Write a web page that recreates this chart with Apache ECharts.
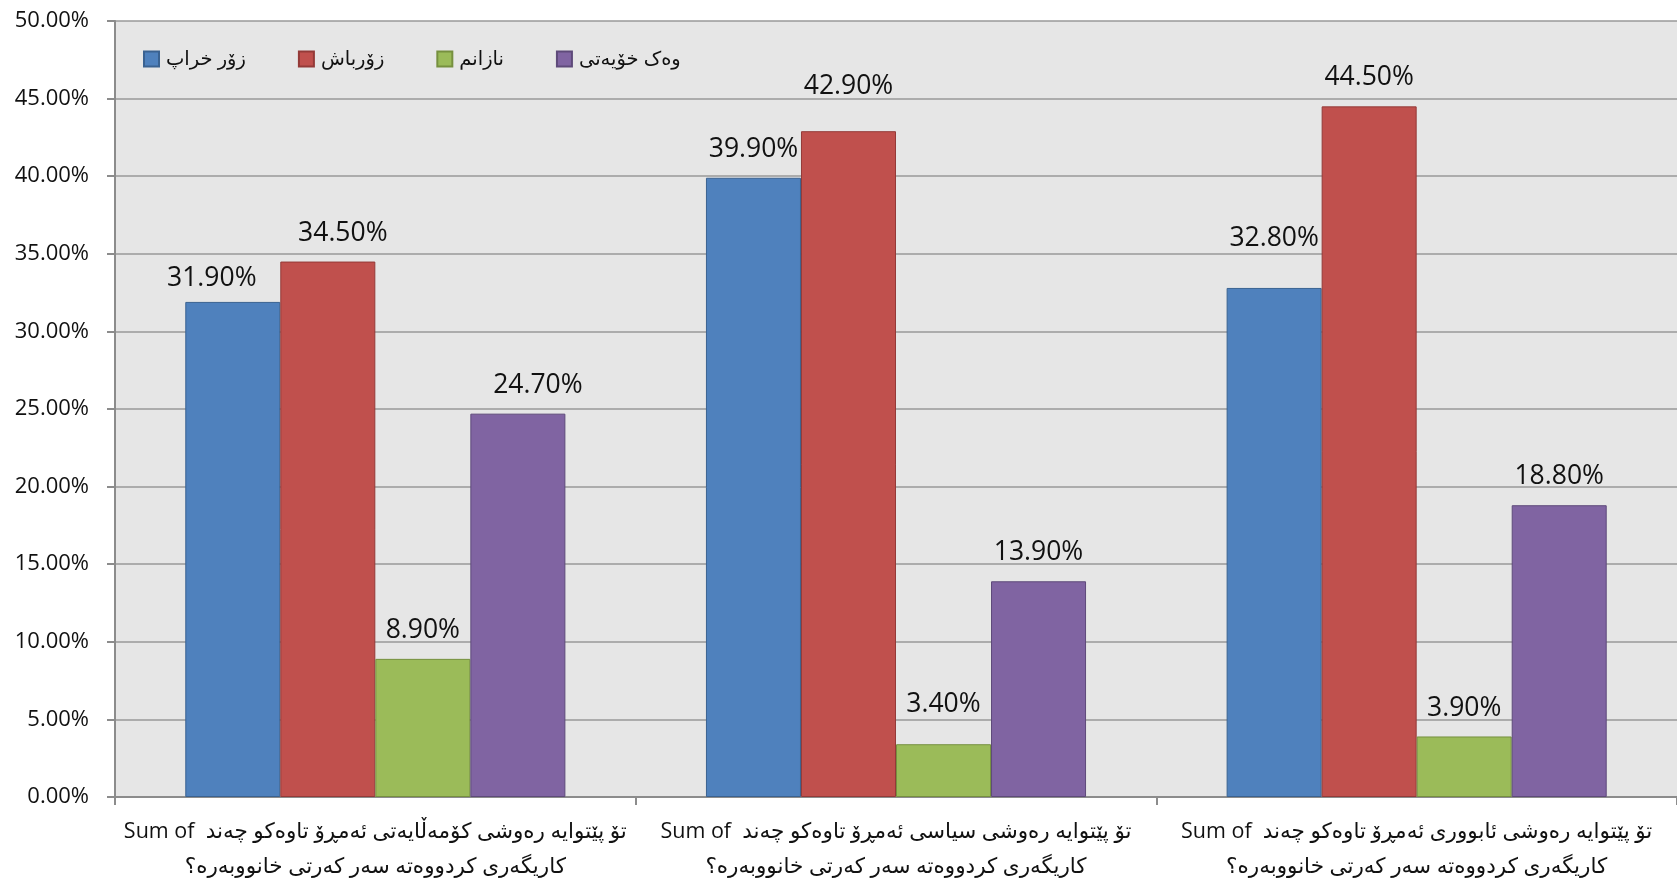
<!DOCTYPE html>
<html>
<head>
<meta charset="utf-8">
<script src="https://cdn.jsdelivr.net/npm/echarts@6/dist/echarts.min.js"></script>
<style>
html,body{margin:0;padding:0;background:#fff;}
#c{width:1677px;height:884px;}
</style>
</head>
<body>
<div id="c"></div>
<script>
const categories = [
  'Sum of  تۆ پێتوایە رەوشی کۆمەڵایەتی ئەمڕۆ تاوەکو چەند\nکاریگەری کردووەتە سەر کەرتی خانووبەرە؟',
  'Sum of  تۆ پێتوایە رەوشی سیاسی ئەمڕۆ تاوەکو چەند\nکاریگەری کردووەتە سەر کەرتی خانووبەرە؟',
  'Sum of  تۆ پێتوایە رەوشی ئابووری ئەمڕۆ تاوەکو چەند\nکاریگەری کردووەتە سەر کەرتی خانووبەرە؟'
];
const seriesNames = ['زۆر خراپ', 'زۆرباش', 'نازانم', 'وەک خۆیەتی'];
const veryBad = [31.9, 39.9, 32.8];
const veryGood = [34.5, 42.9, 44.5];
const dontKnow = [8.9, 3.4, 3.9];
const asItIs = [24.7, 13.9, 18.8];
const yTicks = { min: 0, max: 50, interval: 5 };

const seriesValues = [veryBad, veryGood, dontKnow, asItIs];
const fills = ['#4F81BD', '#C0504D', '#9BBB59', '#8064A2'];
const borders = ['#3A6291', '#943A38', '#76903F', '#5E4A7A'];
// label nudges (Excel moved a few labels to avoid overlaps)
const labelNudge = { '0-0': [-21, 5], '1-0': [15, 0], '3-0': [20, 0], '1-1': [0, -16], '2-1': [0, -11], '0-2': [0, -21] };

const FONT = "'Open Sans', 'DejaVu Sans', sans-serif";
const chart = echarts.init(document.getElementById('c'), null, { renderer: 'canvas' });

const series = seriesValues.map((vals, s) => ({
  name: seriesNames[s],
  type: 'bar',
  barGap: '0%',
  barCategoryGap: '27%',
  itemStyle: { color: fills[s], borderColor: borders[s], borderWidth: 1 },
  label: {
    show: true, position: 'top', distance: 15,
    fontFamily: FONT, fontSize: 26.5, color: '#111',
    formatter: p => p.value.toFixed(2) + '%'
  },
  data: vals.map((v, i) => {
    const o = labelNudge[s + '-' + i];
    return o ? { value: v, label: { offset: o } } : v;
  })
}));

chart.setOption({
  animation: false,
  textStyle: { fontFamily: FONT },
  legend: {
    left: 143, top: 49, padding: 0,
    itemWidth: 15, itemHeight: 15, itemGap: 52,
    icon: 'rect',
    textStyle: { fontFamily: FONT, fontSize: 19.5, color: '#111', padding: [0, 0, 0, 2] },
    data: seriesNames
  },
  grid: {
    left: 115, top: 21, width: 1570, height: 781,
    show: true, backgroundColor: '#E6E6E6', borderWidth: 0, containLabel: false
  },
  xAxis: {
    type: 'category',
    data: categories,
    axisLine: { show: true, lineStyle: { color: '#8C8C8C', width: 2 } },
    axisTick: { show: true, length: 8, alignWithLabel: false, lineStyle: { color: '#8C8C8C', width: 2 } },
    axisLabel: { fontFamily: FONT, fontSize: 21.5, color: '#111', margin: 17, lineHeight: 35, interval: 0 },
    splitLine: { show: false }
  },
  yAxis: {
    type: 'value',
    min: yTicks.min, max: yTicks.max, interval: yTicks.interval,
    axisLine: { show: true, lineStyle: { color: '#8C8C8C', width: 2 } },
    axisTick: { show: true, length: 8, lineStyle: { color: '#8C8C8C', width: 2 } },
    axisLabel: { fontFamily: FONT, fontSize: 22, color: '#111', margin: 26, formatter: v => v.toFixed(2) + '%' },
    splitLine: { show: true, lineStyle: { color: '#999999', width: 1.5 } }
  },
  series: series
});
</script>
</body>
</html>
